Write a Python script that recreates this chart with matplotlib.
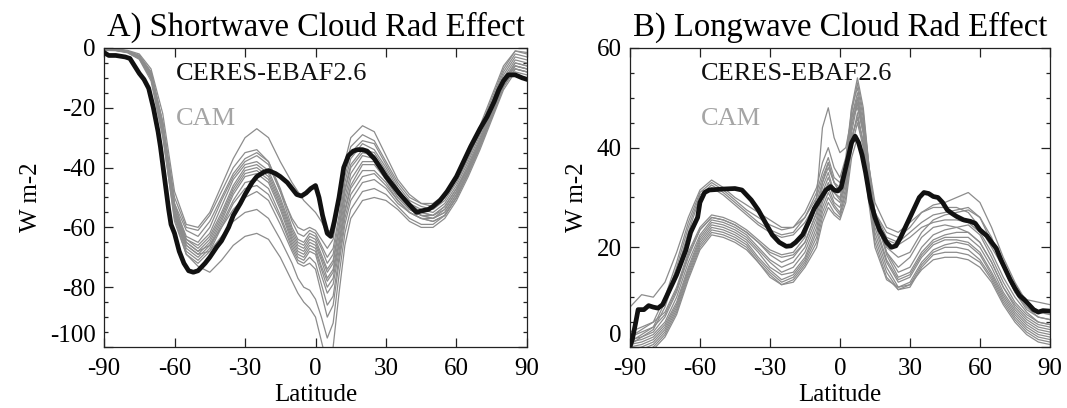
import matplotlib
matplotlib.use("Agg")
import matplotlib.pyplot as plt
from matplotlib.ticker import MultipleLocator

plt.rcParams['font.family'] = ['Liberation Serif', 'DejaVu Serif']
plt.rcParams['axes.unicode_minus'] = False

# latitude grid for the model (CAM) curves
lat_cam = [-90, -85, -80, -75, -70, -65, -60, -55, -50, -45, -40, -35, -30, -25, -20, -15,
           -10, -7.5, -5, -2.5, 0, 2.5, 5, 7.5, 10, 12.5, 15, 20, 25, 30, 35, 40, 45, 50,
           55, 60, 65, 70, 75, 80, 85, 90]

# ---- A) shortwave cloud radiative effect ----
sw_obs_lat = [-90, -88, -85, -81, -79, -77, -75, -73, -71, -69, -67, -66, -64, -62.5, -61.5, -60,
              -58, -56, -54, -52, -50, -47, -45, -42, -40, -37, -35, -32, -30, -27, -25, -22, -20,
              -17, -15, -12, -10, -8, -6, -4, -2, 0, 1.5, 3, 5, 6.5, 8, 10, 12, 14, 16, 18, 20, 22,
              25, 28, 30, 33, 36, 40, 43, 45, 48, 50, 53, 56, 60, 63, 66, 70, 73, 76, 78, 80, 82,
              85, 88, 90]
sw_obs = [-1.5, -2.5, -2.5, -3, -3.5, -6, -8.5, -10.5, -13.5, -20, -28, -33, -45, -54, -59, -62,
          -68, -72, -74.5, -75, -74.5, -72, -70, -66.5, -64.5, -60, -56, -52, -49, -45, -43, -41.5, -41,
          -42, -43, -45, -47, -49, -49.5, -48.5, -47, -46, -50, -56, -62, -63, -58, -50, -40, -36, -34.5, -34, -34, -34.5,
          -37, -40.5, -43, -46, -49, -52.5, -55, -54.5, -54, -53, -51, -48, -43, -38, -33, -27, -23, -18, -14, -11, -9,
          -9, -10, -10.5]

sw_cam = [
    [-0.2, -0.3, -0.8, -2, -7, -22, -48, -59, -60, -55, -46, -37, -30, -27, -30, -38, -45, -48, -51, -53, -55, -58, -62, -60, -50, -38, -30, -26, -28, -36, -44, -49, -52, -53, -50, -44, -36, -27, -17, -7, -1, -2],
    [-0.3, -0.4, -1, -2.5, -8, -25, -50, -60, -61, -56, -48, -40, -35, -34, -38, -48, -57, -60, -61, -60, -61, -64, -67, -64, -52, -40, -33, -29, -31, -38, -45, -50, -52, -52, -49, -43, -35, -26, -16, -6, -1, -1.5],
    [-0.4, -0.5, -1.1, -3, -9, -26, -52, -61, -63, -58, -50, -42, -37, -35, -38, -47, -58, -62, -63, -61, -62, -66, -70, -67, -56, -43, -35, -31, -32, -39, -46, -51, -53, -54, -51, -45, -37, -28, -18, -8, -2, -3],
    [-0.3, -0.5, -1, -2.8, -8.5, -25, -53, -63, -65, -60, -51, -43, -38, -36, -39, -48, -60, -64, -65, -62, -63, -67, -72, -69, -58, -45, -37, -32, -34, -40, -47, -52, -54, -55, -52, -46, -38, -29, -19, -9, -3, -4],
    [-0.5, -0.6, -1.2, -3, -9, -27, -54, -64, -66, -62, -53, -44, -39, -38, -41, -50, -61, -65, -66, -63, -64, -69, -74, -71, -60, -47, -39, -34, -35, -41, -48, -52, -55, -56, -53, -47, -39, -30, -20, -10, -4, -5],
    [-0.4, -0.5, -1, -2.5, -8, -25, -52, -64, -67, -63, -55, -46, -40, -39, -42, -51, -62, -66, -67, -64, -65, -70, -75, -72, -61, -48, -40, -35, -36, -42, -48, -53, -55, -56, -53, -47, -40, -31, -21, -11, -5, -6],
    [-0.6, -0.7, -1.3, -3.2, -10, -28, -55, -65, -68, -64, -56, -47, -41, -40, -43, -52, -63, -67, -68, -65, -66, -71, -77, -74, -63, -50, -42, -36, -37, -43, -49, -53, -56, -57, -54, -48, -40, -31, -21, -11, -5, -6],
    [-0.5, -0.6, -1.2, -3, -9, -27, -55, -66, -69, -65, -57, -48, -42, -41, -44, -53, -64, -68, -69, -66, -67, -73, -78, -75, -65, -52, -44, -38, -38, -44, -50, -54, -56, -57, -55, -49, -41, -32, -22, -12, -6, -7],
    [-0.7, -0.8, -1.5, -3.5, -10, -28, -56, -67, -70, -66, -58, -49, -43, -42, -45, -54, -65, -69, -70, -67, -68, -74, -80, -77, -66, -54, -46, -39, -39, -44, -50, -54, -56, -56, -54, -48, -40, -31, -21, -11, -6, -7],
    [-0.5, -0.7, -1.3, -3, -9, -27, -56, -68, -71, -67, -59, -51, -45, -44, -47, -56, -66, -70, -71, -68, -69, -76, -82, -79, -68, -55, -47, -41, -41, -45, -51, -55, -57, -58, -56, -50, -42, -33, -23, -13, -7, -8],
    [-0.8, -0.9, -1.6, -3.8, -11, -30, -57, -69, -72, -68, -60, -52, -47, -46, -49, -57, -67, -71, -72, -70, -72, -79, -86, -83, -70, -57, -49, -43, -42, -46, -51, -55, -57, -58, -56, -50, -42, -33, -23, -13, -7, -8],
    [-0.4, -0.6, -1.2, -3, -9, -26, -54, -65, -68, -66, -60, -54, -50, -48, -51, -59, -68, -72, -73, -72, -74, -82, -90, -86, -72, -59, -51, -45, -44, -47, -52, -55, -57, -57, -55, -49, -41, -32, -22, -12, -6, -7],
    [-0.6, -0.8, -1.4, -3.5, -10, -28, -56, -66, -69, -68, -63, -58, -55, -54, -57, -64, -72, -77, -80, -81, -84, -90, -97, -92, -76, -62, -54, -48, -47, -49, -53, -57, -59, -59, -56, -50, -42, -33, -23, -13, -7, -8],
    [-0.5, -0.7, -1.3, -3.2, -10, -29, -58, -69, -73, -75, -71, -66, -63, -62, -64, -70, -78, -82, -85, -87, -90, -98, -106, -100, -82, -66, -57, -51, -50, -51, -54, -58, -60, -60, -57, -51, -43, -34, -24, -14, -8, -9],
]

# ---- B) longwave cloud radiative effect ----
lw_obs_lat = [-90, -89, -87.5, -86.5, -84, -82, -80, -78, -76, -74, -72, -70, -68, -66, -64, -62, -61,
              -60, -58, -56, -50, -45, -42, -40, -38, -35, -32, -29, -26, -23, -21, -19, -16, -13, -11,
              -8, -6, -4, -2.5, -1, 0.5, 2, 3.5, 5, 6.5, 8, 9.5, 11, 13, 15, 17, 20, 22, 24, 26, 28,
              30, 32, 34, 36, 38, 40, 42, 44, 46, 48, 50, 53, 56, 58, 60, 63, 65, 67, 69, 71, 73,
              75, 77, 79, 81, 83, 85, 87, 90]
lw_obs = [0, 1.5, 5, 7.5, 7.5, 8.3, 8, 7.8, 8.5, 10.5, 12.5, 14.5, 17, 19.5, 23, 25, 26,
          29, 31, 31.5, 31.7, 31.8, 31.5, 30.5, 29.5, 27.5, 25, 22.5, 21, 20.2, 20.3, 21, 22.5, 25.5, 27.8,
          30, 31.5, 32.2, 31.5, 31.3, 32, 35, 38, 41, 42.3, 41, 38.5, 35, 29.5, 26, 23.5, 21, 20, 20.3, 22, 24,
          26, 28, 30, 31, 30.8, 30.2, 30, 29, 27.5, 26.8, 26.2, 25.5, 25.2, 24.8, 23.5, 22.3, 21, 19.8, 17.5, 15.5, 13.5,
          11.8, 10.3, 9.5, 8.5, 7.5, 7, 7.3, 7.2]

lw_cam = [
    [8, 10.5, 10, 13, 19, 26, 31.5, 33.5, 32, 30, 28.5, 27, 25.5, 24, 24, 26, 30, 34, 37, 33, 31, 34, 42, 46, 41, 33, 27, 23, 22, 24, 27, 28, 28, 28, 27, 24, 20, 16, 12, 9.5, 9, 8.5],
    [2, 3.5, 5, 10, 17, 25, 31, 33, 31.5, 29.5, 27.5, 26, 24.5, 23.5, 24, 27, 32, 37, 40, 36, 34, 38, 48, 52, 46, 36, 29, 24, 23, 25, 27, 28.5, 29, 30, 31, 29, 24, 18, 13, 9, 7, 6.5],
    [1, 2.5, 4, 9, 16, 24, 30.5, 32.5, 31, 29, 27, 25, 23.5, 22.5, 23, 26, 31, 35, 38, 34, 33, 37, 46, 50, 44, 34, 27, 22, 21, 23, 25, 26.5, 27, 27.5, 28, 26, 21, 16, 11, 8, 6, 5.5],
    [0.5, 2, 3.5, 8, 15, 23, 30, 32, 30.5, 28.5, 26.5, 24.5, 23, 22, 22.5, 25, 29, 33, 36, 33, 32, 36, 45, 49, 43, 33, 26, 21.5, 20.5, 22, 24, 25, 25.5, 25.5, 25, 23, 19, 14, 10, 7, 5, 4.5],
    [3, 4, 5, 7, 12, 19, 24, 26.5, 26, 25, 23.5, 21.5, 19.5, 18.5, 19, 22, 30, 44, 48, 42, 39, 40, 46, 48, 43, 34, 26, 19, 16, 18, 22, 24, 24.5, 24, 23, 21, 17, 12, 8.5, 6, 4.5, 4],
    [1.5, 2, 3, 6, 11, 18, 23.5, 26, 25.5, 24.5, 23, 21, 18.5, 17, 18, 21, 27, 33, 37, 33, 31, 36, 47, 53, 47, 36, 27, 19, 15, 16, 20, 22.5, 23.5, 24, 24.5, 22.5, 18, 13, 9, 6.5, 5, 4.5],
    [1, 1.5, 2.5, 5, 10, 17, 22.5, 25.5, 25, 24, 22.5, 20, 17.5, 16, 17, 20, 26, 31, 34, 31, 30, 35, 48, 54, 48, 36, 27, 18.5, 14, 15, 19, 21.5, 22.5, 23, 23, 21, 17, 12, 8, 5.5, 4, 3.5],
    [0.5, 1, 2, 4.5, 9, 16, 22, 25, 24.5, 23.5, 22, 19.5, 17, 15, 16, 19, 25, 30, 33, 30, 29, 34, 46, 51, 45, 34, 25, 17.5, 13.5, 14.5, 18.5, 21, 22, 22, 22, 20, 16, 11, 7.5, 5, 3.5, 3],
    [0, 0.5, 1.5, 4, 8.5, 15.5, 21.5, 24.5, 24, 23, 21.5, 19, 16, 14.5, 15, 18, 24, 29, 32, 29, 28, 33, 44, 50, 44, 33, 24, 17, 13, 14, 18, 20.5, 21.5, 21.5, 21, 19, 15, 10.5, 7, 4.5, 3, 2.5],
    [-0.5, 0, 1, 3.5, 8, 15, 21, 24, 23.5, 22.5, 21, 18, 15.5, 13.5, 14.5, 17.5, 23, 28, 31, 28.5, 27, 32, 43, 49, 43, 32, 23, 16, 12, 13, 17, 19.5, 20.5, 21, 20.5, 18.5, 14.5, 10, 6.5, 4, 2.5, 2],
    [-1, -0.5, 0.5, 3, 7.5, 14.5, 20.5, 23.5, 23, 22, 20.5, 17.5, 15, 13, 14, 17, 22, 27, 30, 28, 26.5, 31, 41, 47, 41, 31, 22, 15, 11.5, 12.5, 16.5, 19, 20, 20, 19.5, 17.5, 14, 9.5, 6, 3.5, 2, 1.5],
    [-1.5, -1, 0, 2.5, 7, 14, 20, 23, 22.5, 21.5, 20, 17, 14.5, 12.5, 13.5, 16.5, 21, 26, 29, 27, 26, 30, 40, 45, 40, 30, 21, 14, 11.5, 12, 16, 18.5, 19, 19, 18.5, 17, 13.5, 9, 5.5, 3, 1.5, 1],
    [-2, -1.5, -0.5, 2, 6.5, 13.5, 19.5, 22.5, 22, 21, 19.5, 17, 14, 12.5, 13, 16, 20, 25, 28, 26.5, 25.5, 29, 38, 42, 38, 28.5, 20, 13.5, 12, 12.5, 15.5, 17.5, 18, 18, 17.5, 16, 13, 8.5, 5, 2.5, 1, 0.5],
    [2, 3, 4, 6.5, 11.5, 18.5, 23.5, 26, 25.5, 24.5, 23, 21, 19, 18, 18.5, 21, 27, 32, 35, 31, 29.5, 33, 42, 46, 41, 32, 25, 20, 18, 19, 23, 25.5, 26.5, 27, 27.5, 26, 22, 16, 11, 7.5, 6, 5.5],
]

xticks = [-90, -60, -30, 0, 30, 60, 90]
sw_yticks = [-100, -80, -60, -40, -20, 0]
lw_yticks = [0, 20, 40, 60]
gray = '#8c8c8c'

fig = plt.figure(figsize=(10.67, 4.08), dpi=100)
axA = fig.add_axes([0.0975, 0.1495, 0.3964, 0.7329])
axB = fig.add_axes([0.5904, 0.1495, 0.3936, 0.7329])

panels = [
    (axA, sw_cam, sw_obs_lat, sw_obs, sw_yticks, 'A) Shortwave Cloud Rad Effect'),
    (axB, lw_cam, lw_obs_lat, lw_obs, lw_yticks, 'B) Longwave Cloud Rad Effect'),
]

for ax, cam, olat, obs, yticks, title in panels:
    for c in cam:
        ax.plot(lat_cam, c, color=gray, lw=0.9, zorder=2)
    ax.plot(olat, obs, color='#111111', lw=3.4, zorder=3, solid_joinstyle='round')
    ax.set_xlim(-90, 90)
    ax.set_ylim(yticks[0], yticks[-1])
    ax.set_xticks(xticks)
    ax.set_xticklabels([str(t) for t in xticks])
    ax.set_yticks(yticks)
    ylabels = ax.set_yticklabels([str(t) for t in yticks])
    for lab in ylabels[1:]:
        lab.set_verticalalignment('center_baseline')
    ylabels[0].set_verticalalignment('bottom')
    ax.yaxis.set_minor_locator(MultipleLocator(5))
    ax.tick_params(which='both', direction='in', top=True, right=True, labelsize=18,
                   width=0.9, color='#222222')
    ax.tick_params(which='major', length=6.5)
    ax.tick_params(axis='x', which='major', pad=8)
    ax.tick_params(axis='y', which='major', pad=6)
    ax.tick_params(which='minor', length=3)
    for s in ax.spines.values():
        s.set_linewidth(0.9)
        s.set_color('#222222')
    ax.set_xlabel('Latitude', fontsize=18, labelpad=3)
    ax.set_ylabel('W m-2', fontsize=18, labelpad=6)
    ax.set_title(title, fontsize=23.5, pad=9)
    ax.text(0.17, 0.913, 'CERES-EBAF2.6', transform=ax.transAxes, fontsize=19,
            color='#111111', va='center', ha='left')
    ax.text(0.17, 0.763, 'CAM', transform=ax.transAxes, fontsize=19,
            color='#a5a5a5', va='center', ha='left')

fig.savefig('out.png', dpi=100)
